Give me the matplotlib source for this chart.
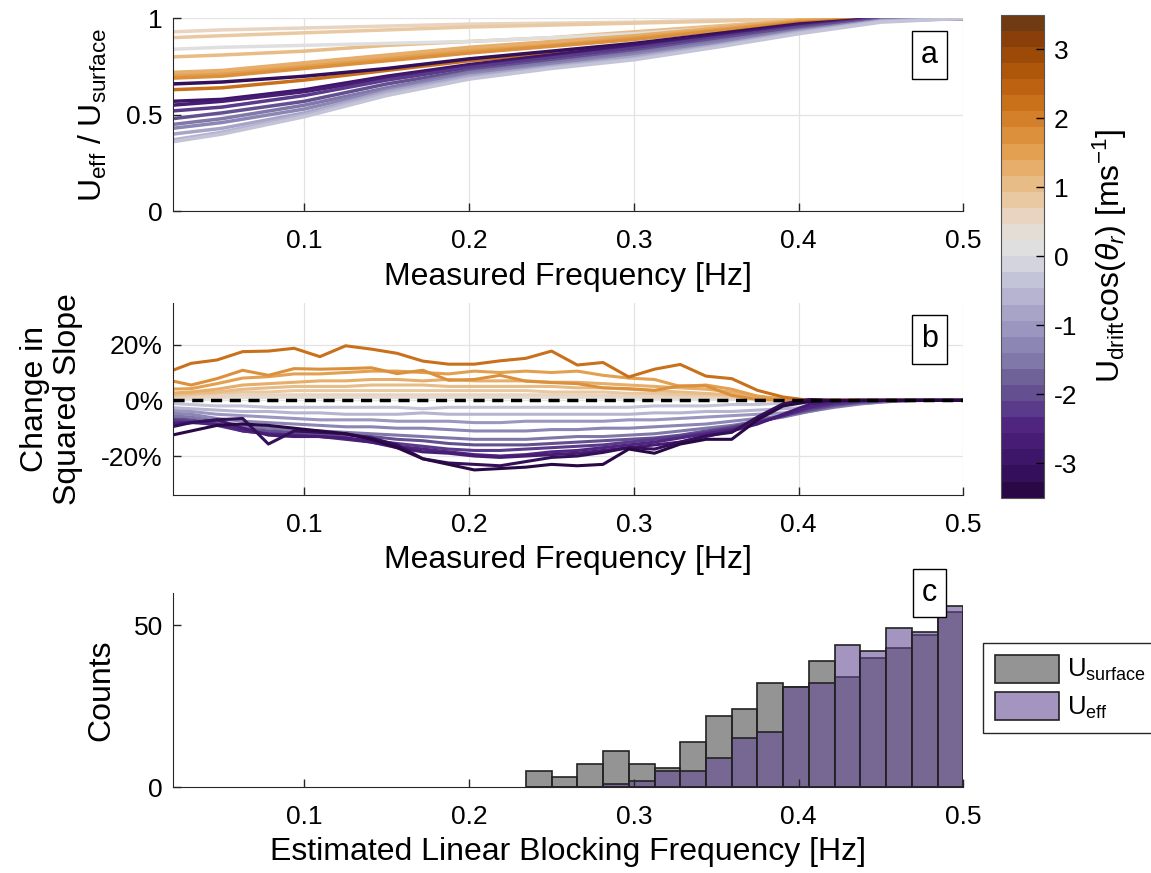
import numpy as np
import matplotlib
matplotlib.use('agg')
import matplotlib.pyplot as plt
from matplotlib.colors import ListedColormap, BoundaryNorm
from matplotlib.cm import ScalarMappable

plt.rcParams['font.family'] = ['Liberation Sans', 'DejaVu Sans']
plt.rcParams['mathtext.fontset'] = 'custom'
plt.rcParams['mathtext.rm'] = 'Liberation Sans'
plt.rcParams['mathtext.it'] = 'Liberation Sans:italic'

# ---- panel a: U_eff / U_surface against measured frequency
freq_a = [0.02, 0.05, 0.1, 0.15, 0.2, 0.25, 0.3, 0.35, 0.4, 0.45, 0.5]
drift_a = [0.5, 0.8, 1.0, 0.2, 1.2, 1.4, 1.6, 1.8, 2.1,
           -3.2, -2.9, -2.6, -2.3, -1.9, -1.5, -1.2, -0.9, -0.6, -0.3]
ratio_a = [
    [0.93, 0.94, 0.95, 0.96, 0.97, 0.975, 0.98, 0.99, 1.0, 1.0, 1.0],
    [0.90, 0.91, 0.925, 0.94, 0.955, 0.965, 0.975, 0.985, 1.0, 1.0, 1.0],
    [0.80, 0.81, 0.83, 0.86, 0.88, 0.90, 0.93, 0.96, 0.99, 1.0, 1.0],
    [0.84, 0.85, 0.86, 0.87, 0.88, 0.90, 0.92, 0.95, 0.98, 1.0, 1.0],
    [0.72, 0.73, 0.77, 0.81, 0.85, 0.88, 0.91, 0.95, 0.99, 1.0, 1.0],
    [0.71, 0.72, 0.76, 0.80, 0.84, 0.87, 0.905, 0.945, 0.99, 1.0, 1.0],
    [0.70, 0.71, 0.75, 0.79, 0.83, 0.86, 0.90, 0.94, 0.985, 1.0, 1.0],
    [0.69, 0.70, 0.74, 0.78, 0.82, 0.855, 0.89, 0.935, 0.98, 1.0, 1.0],
    [0.63, 0.64, 0.68, 0.73, 0.78, 0.82, 0.86, 0.92, 0.975, 1.0, 1.0],
    [0.66, 0.67, 0.70, 0.74, 0.79, 0.83, 0.87, 0.92, 0.97, 1.0, 1.0],
    [0.57, 0.58, 0.63, 0.70, 0.76, 0.81, 0.86, 0.91, 0.965, 1.0, 1.0],
    [0.55, 0.57, 0.62, 0.69, 0.75, 0.80, 0.85, 0.905, 0.96, 1.0, 1.0],
    [0.52, 0.54, 0.60, 0.68, 0.745, 0.795, 0.845, 0.90, 0.955, 1.0, 1.0],
    [0.48, 0.51, 0.57, 0.66, 0.73, 0.78, 0.83, 0.89, 0.95, 0.995, 1.0],
    [0.45, 0.48, 0.55, 0.64, 0.72, 0.77, 0.82, 0.88, 0.94, 0.99, 1.0],
    [0.43, 0.46, 0.53, 0.63, 0.71, 0.76, 0.81, 0.87, 0.935, 0.99, 1.0],
    [0.40, 0.43, 0.51, 0.62, 0.70, 0.75, 0.80, 0.86, 0.93, 0.985, 1.0],
    [0.37, 0.41, 0.50, 0.61, 0.69, 0.745, 0.79, 0.855, 0.925, 0.985, 1.0],
    [0.36, 0.40, 0.49, 0.60, 0.685, 0.74, 0.785, 0.85, 0.92, 0.98, 1.0],
]

# ---- panel b: change in squared slope [%], frequencies k/64, k = 1..32
freq_b = np.arange(1, 33) / 64
drift_b = [0.3, 0.6, 0.9, 1.1, 1.3, 1.5, 1.8, 2.1,
           -0.35, -0.7, -1.0, -1.3, -1.6, -1.9, -2.2, -2.5, -2.8, -3.1, -3.35]
slope_b = [
    [0.5, 0.6, 0.8, 1, 1, 1, 1, 1, 1, 1, 1, 1, 1, 1, 1, 1, 1, 0.9, 0.8, 0.7, 0.6, 0.5, 0.4, 0.3, 0.2, 0.1, 0, 0, 0, 0, 0, 0],
    [1, 1.2, 1.5, 2, 2, 2, 2, 2, 2, 2, 2, 2, 2, 2, 2, 2, 2, 1.8, 1.6, 1.5, 1.3, 1.1, 0.9, 0.6, 0.3, 0.1, 0, 0, 0, 0, 0, 0],
    [1.5, 2, 2.5, 3, 3, 3.5, 3.5, 3.5, 3.5, 3.5, 3.5, 3.5, 3.5, 3.5, 3.5, 3, 3, 3, 2.5, 2.5, 2, 2, 1.5, 1, 0.5, 0.2, 0, 0, 0, 0, 0, 0],
    [2, 2.5, 3, 4, 4.5, 5, 5, 5, 5.5, 5.5, 5.5, 5, 5, 5, 5, 5, 4.5, 4.5, 4, 3.5, 3, 2.5, 2, 1.2, 0.5, 0.1, 0, 0, 0, 0, 0, 0],
    [2.5, 3, 4, 5.5, 6, 6.5, 7, 7, 7.5, 7.5, 7, 7.5, 7, 7, 7, 6.5, 6.5, 6, 5.5, 5, 4.5, 4, 3, 1.5, 0.5, 0.1, 0, 0, 0, 0, 0, 0],
    [4, 4.2, 6, 8, 8.5, 9.5, 9.5, 10, 10.5, 10.5, 10, 9.5, 10.5, 10, 10.5, 10, 10.5, 9, 8, 7.5, 5, 5.5, 4, 1.5, 0.3, 0, 0, 0, 0, 0, 0, 0],
    [7.5, 5.5, 7.8, 10.8, 9, 11.4, 11.2, 11.4, 11.7, 9.6, 10.8, 7.2, 7.5, 9, 6.9, 6.4, 6, 4.5, 4.2, 3.6, 5.2, 5.2, 1.8, 0.3, 0, 0, 0, 0, 0, 0, 0, 0],
    [9.8, 13.3, 14.5, 17.5, 17.7, 18.7, 15.7, 19.6, 18.4, 16.9, 14.1, 13, 13, 14.2, 15.1, 17.7, 12.7, 13.6, 8.4, 11.2, 12.9, 8.7, 7.8, 3.6, 1.2, 0, 0, 0, 0, 0, 0, 0],
    [-1, -1.5, -2, -2, -2.5, -2.5, -2.5, -2.5, -2.5, -2.5, -3, -2.5, -2.5, -2.5, -2.5, -2.5, -2.5, -2.5, -2.5, -2, -2, -2, -1.5, -1.5, -1, -0.7, -0.4, -0.2, -0.1, 0, 0, 0],
    [-2.5, -3, -3.5, -4, -4, -4.5, -4.5, -5, -5, -5, -4.5, -5, -5, -5, -5, -5, -5, -5, -5, -4.5, -4.5, -4, -4, -3.5, -3, -2.5, -1.5, -0.8, -0.3, 0, 0, 0],
    [-3.5, -4, -5, -5.5, -6, -6.5, -7, -7, -7, -7.5, -7.5, -7.5, -8, -8, -7.5, -7.5, -7.5, -7.5, -7, -7, -6.5, -6, -5.5, -5, -4.5, -3.5, -2.2, -1.2, -0.5, -0.1, 0, 0],
    [-4.5, -5, -6.5, -7.5, -8, -8.5, -9, -9.5, -9.5, -10, -10, -10.5, -11, -11, -11, -10.5, -10.5, -10, -10, -9.5, -9, -8.5, -7.5, -6.5, -5.5, -4, -2.5, -1.3, -0.5, -0.1, 0, 0],
    [-5.5, -6, -7.5, -9, -10, -10.5, -11, -11.5, -12, -12.5, -13, -13.5, -14, -14, -14, -13.5, -13, -13, -12.5, -12, -11, -10, -9, -7.5, -6, -4, -2.2, -1, -0.3, 0, 0, 0],
    [-6.5, -7, -8.5, -10, -11, -11.5, -12, -12.5, -13, -14, -14.5, -15.5, -16, -16, -16, -15.5, -15, -14.5, -14, -13.5, -12.5, -11, -9.5, -7.5, -5.5, -3.5, -1.8, -0.7, -0.2, 0, 0, 0],
    [-7, -7.5, -9, -11, -12, -12.5, -13, -13.5, -14.5, -15.5, -16.5, -17.5, -18, -18, -17.5, -17, -16.5, -16, -15, -14, -13, -11.5, -10, -8, -5.5, -3, -1.3, -0.4, 0, 0, 0, 0],
    [-8, -8, -8.5, -11, -12, -12.5, -13, -14, -15, -16.5, -17.5, -18.5, -19.5, -20, -19.5, -18.5, -18, -17, -16, -15, -13.5, -12, -10.5, -8, -5.5, -2.5, -0.8, 0, 0, 0, 0, 0],
    [-9, -8, -7, -10, -12.5, -13, -13, -13.5, -15, -17, -18.5, -19, -20, -20.5, -20, -19.5, -19, -18, -17, -16, -15, -13, -11, -8.5, -5, -1.5, -0.2, 0, 0, 0, 0, 0],
    [-10, -8, -7, -6.5, -15.7, -11, -11.5, -12, -13.5, -16, -21, -22.5, -23, -23.5, -22, -20.5, -20, -18.7, -17, -17.5, -15, -12.7, -11.5, -6, -1.2, 0.3, 0, 0, 0, 0, 0, 0],
    [-13, -11, -9, -8.5, -9, -10, -11, -12, -14, -17, -21, -23, -25, -24.5, -24, -23, -23.5, -23, -17.5, -19, -15.7, -14, -14, -7, -2, -0.5, 0, 0, 0, 0, 0, 0],
]

# ---- panel c: histogram of estimated blocking frequency
bin_edges = np.arange(15, 33) / 64
counts_surface = [5, 3, 7, 11, 7, 6, 14, 22, 24, 32, 31, 39, 34, 40, 43, 47, 54]
counts_eff = [0, 0, 0, 1, 2, 5, 5, 9, 15, 17, 31, 32, 44, 42, 49, 48, 56]

# 30-step diverging colour scale, purple (low) to brown (high)
cb_colors = ['#2a0846', '#35105a', '#3e1669', '#461c74', '#4f2580', '#5a3a8a',
             '#645090', '#6e6298', '#8078a8', '#8c86b4', '#9a96c0', '#a8a4c8',
             '#b6b4d0', '#c4c4d8', '#d4d4de', '#dfdfdf', '#e4ddd6', '#e8d4c0',
             '#e9c9a2', '#e8bc86', '#e6ae6a', '#e2a050', '#dc903c', '#d4802a',
             '#c8701a', '#bc6210', '#ae560a', '#9c4a08', '#8a3f0a', '#703a12']
cmap = ListedColormap(cb_colors)
norm = BoundaryNorm(np.linspace(-3.5, 3.5, 31), cmap.N)

fig = plt.figure(figsize=(11.51, 8.73), dpi=100)
ax_a = fig.add_axes([0.150, 0.758, 0.687, 0.221])
ax_b = fig.add_axes([0.150, 0.433, 0.687, 0.220])
ax_c = fig.add_axes([0.150, 0.0985, 0.687, 0.2225])
cax = fig.add_axes([0.870, 0.430, 0.037, 0.553])

xt = [0.1, 0.2, 0.3, 0.4, 0.5]


def style(ax, grid=True):
    for s in ['top', 'right']:
        ax.spines[s].set_visible(False)
    for s in ['left', 'bottom']:
        ax.spines[s].set_color('#262626')
    ax.tick_params(direction='in', length=6, width=1, labelsize=19, colors='#262626')
    ax.tick_params(axis='x', pad=13)
    ax.tick_params(axis='y', pad=7)
    ax.set_xlim(0.02, 0.5)
    ax.set_xticks(xt)
    ax.set_xticklabels(['0.1', '0.2', '0.3', '0.4', '0.5'])
    for t in ax.get_xticklabels() + ax.get_yticklabels():
        t.set_color('black')
    if grid:
        ax.grid(True, color='#e3e3e3', lw=0.9)
        ax.set_axisbelow(True)


def tag(ax, s, y):
    ax.text(0.957, y, s, transform=ax.transAxes, ha='center', va='center',
            fontsize=22, zorder=10,
            bbox=dict(boxstyle='square,pad=0.3', fc='white', ec='black', lw=1))


# panel a
for d, vals in zip(drift_a, ratio_a):
    ax_a.plot(freq_a, vals, color=cmap(norm(d)), lw=2.5, solid_capstyle='round')
style(ax_a)
ax_a.set_ylim(0, 1)
ax_a.set_yticks([0, 0.5, 1])
ax_a.set_yticklabels(['0', '0.5', '1'])
ax_a.set_xlabel('Measured Frequency [Hz]', fontsize=23, labelpad=6)
ax_a.set_ylabel(r'U$_{\rm eff}$ / U$_{\rm surface}$', fontsize=23)
ax_a.yaxis.set_label_coords(-0.08, 0.5)
tag(ax_a, 'a', 0.81)

# panel b
for d, vals in zip(drift_b, slope_b):
    ax_b.plot(freq_b, vals, color=cmap(norm(d)), lw=2.2)
ax_b.axhline(0, color='black', lw=2.5, ls=(0, (3.2, 2.2)), zorder=5)
style(ax_b)
ax_b.set_ylim(-34, 35)
ax_b.set_yticks([-20, 0, 20])
ax_b.set_yticklabels(['-20%', '0%', '20%'])
ax_b.set_xlabel('Measured Frequency [Hz]', fontsize=23, labelpad=6)
ax_b.set_ylabel('Change in\nSquared Slope', fontsize=23, linespacing=1.1)
ax_b.yaxis.set_label_coords(-0.114, 0.5)
tag(ax_b, 'b', 0.81)

# panel c
bars_s = ax_c.bar(bin_edges[:-1], counts_surface, width=1 / 64, align='edge',
                  color=(0.3, 0.3, 0.3, 0.6), edgecolor='#222222', lw=1.2)
bars_e = ax_c.bar(bin_edges[:-1], counts_eff, width=1 / 64, align='edge',
                  color=(96 / 255, 72 / 255, 145 / 255, 0.575), edgecolor='#222222', lw=1.2)
style(ax_c, grid=False)
ax_c.set_ylim(0, 60)
ax_c.set_yticks([0, 50])
ax_c.set_xlabel('Estimated Linear Blocking Frequency [Hz]', fontsize=23, labelpad=6)
ax_c.set_ylabel('Counts', fontsize=23)
ax_c.yaxis.set_label_coords(-0.071, 0.5)
tag(ax_c, 'c', 1.0)

leg = fig.legend([bars_s, bars_e], [r'U$_{\rm surface}$', r'U$_{\rm eff}$'],
                 loc='upper left', bbox_to_anchor=(983 / 1151, 1 - 643 / 873),
                 fontsize=18.5, fancybox=False, framealpha=1, edgecolor='#262626',
                 handlelength=2.5, handleheight=1.3, handletextpad=0.3,
                 borderpad=0.45, labelspacing=0.35, borderaxespad=0)
leg.get_frame().set_linewidth(1)

# colorbar
cb = fig.colorbar(ScalarMappable(norm=norm, cmap=cmap), cax=cax,
                  ticks=[-3, -2, -1, 0, 1, 2, 3])
cb.ax.minorticks_off()
cb.ax.tick_params(direction='in', length=6, width=1, labelsize=19, pad=7)
cb.ax.set_yticklabels(['-3', '-2', '-1', '0', '1', '2', '3'])
cb.outline.set_edgecolor('#555555')
cb.set_label(r'U$_{\rm drift}$cos($\theta_r$) [ms$^{-1}$]', fontsize=23, labelpad=10)

fig.savefig('out.png', dpi=100)
